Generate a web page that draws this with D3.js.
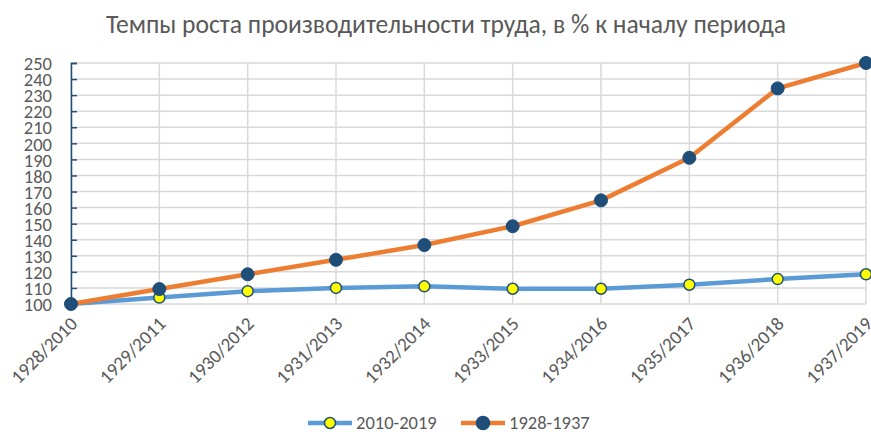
<!DOCTYPE html>
<html><head><meta charset="utf-8">
<script src="https://cdn.jsdelivr.net/npm/d3@7"></script>
<style>
body{margin:0;background:#fff;}
text{font-family:Carlito, Calibri, Lato, "Open Sans", sans-serif;fill:#595959;}
</style></head>
<body><svg id="c" width="871" height="432"></svg>
<script>
const categories = ["1928/2010","1929/2011","1930/2012","1931/2013","1932/2014","1933/2015","1934/2016","1935/2017","1936/2018","1937/2019"];
const series2010 = [100, 104, 108, 110, 111, 109.5, 109.5, 112, 115.5, 118.5];
const series1928 = [100, 109.3, 118.5, 127.5, 136.7, 148.4, 164.5, 191, 234.2, 250];
const yTicks = d3.range(100, 251, 10);
const seriesNames = ["2010-2019", "1928-1937"];

const svg = d3.select("#c");
const m = {l:71, r:866, t:63, b:304};
const x = d3.scalePoint().domain(categories).range([m.l, m.r]);
const y = d3.scaleLinear().domain([100, 250]).range([m.b, m.t]);

// title
svg.append("text").attr("x", 446).attr("y", 33).attr("text-anchor","middle")
  .style("font-size","25.6px").text("Темпы роста производительности труда, в % к началу периода");

// gridlines
const g = svg.append("g");
g.selectAll("line.h").data(yTicks).join("line")
  .attr("x1", m.l).attr("x2", m.r).attr("y1", d=>y(d)).attr("y2", d=>y(d))
  .attr("stroke","#D9D9D9").attr("stroke-width",1.5);
g.selectAll("line.v").data(categories).join("line").attr("class","v")
  .attr("x1", d=>x(d)).attr("x2", d=>x(d)).attr("y1", m.t).attr("y2", m.b)
  .attr("stroke","#D9D9D9").attr("stroke-width",1.5);

// y axis
const ya = svg.append("g").attr("transform",`translate(${m.l},0)`)
  .call(d3.axisLeft(y).tickValues(yTicks).tickSize(-6).tickPadding(18));
ya.select(".domain").attr("stroke","#1F4E79").attr("stroke-width",1.5);
ya.selectAll(".tick line").attr("stroke","#1F4E79").attr("stroke-width",1.5);
ya.selectAll(".tick text").attr("fill","#595959").style("font-size","18.5px")
  .attr("x", -19).attr("dy","0.36em");

// x axis labels
const xa = svg.append("g").attr("transform",`translate(0,${m.b})`)
  .call(d3.axisBottom(x).tickSize(0));
xa.select(".domain").remove();
xa.selectAll(".tick text").attr("fill","#595959").style("font-size","19px")
  .attr("text-anchor","end").attr("y",0).attr("dy",0)
  .attr("transform","translate(7,21) rotate(-45)");

const line = d3.line().x((d,i)=>x(categories[i])).y(d=>y(d));

svg.append("path").datum(series2010).attr("d", line).attr("fill","none")
  .attr("stroke","#5B9BD5").attr("stroke-width",4.5).attr("stroke-linecap","round").attr("stroke-linejoin","round");
svg.append("path").datum(series1928).attr("d", line).attr("fill","none")
  .attr("stroke","#ED7D31").attr("stroke-width",4.5).attr("stroke-linecap","round").attr("stroke-linejoin","round");

svg.append("g").selectAll("circle").data(series2010).join("circle")
  .attr("cx",(d,i)=>x(categories[i])).attr("cy",d=>y(d)).attr("r",5.5)
  .attr("fill","#FFFF00").attr("stroke","#1F4E79").attr("stroke-width",1.5);
svg.append("g").selectAll("circle").data(series1928).join("circle")
  .attr("cx",(d,i)=>x(categories[i])).attr("cy",d=>y(d)).attr("r",6.5)
  .attr("fill","#1F4E79").attr("stroke","#1F4E79").attr("stroke-width",1);

// legend
const leg = [
  {name: seriesNames[0], color:"#5B9BD5", fill:"#FFFF00", r:5.5, x0:308},
  {name: seriesNames[1], color:"#ED7D31", fill:"#1F4E79", r:6.5, x0:461}
];
const lg = svg.append("g").selectAll("g").data(leg).join("g")
  .attr("transform", d=>`translate(${d.x0},423)`);
lg.append("line").attr("x1",0).attr("x2",44).attr("stroke",d=>d.color).attr("stroke-width",4.5);
lg.append("circle").attr("cx",22).attr("r",d=>d.r).attr("fill",d=>d.fill).attr("stroke","#1F4E79").attr("stroke-width",1.5);
lg.append("text").attr("x",48).attr("dy","0.35em").style("font-size","18.5px").text(d=>d.name);
</script></body></html>
